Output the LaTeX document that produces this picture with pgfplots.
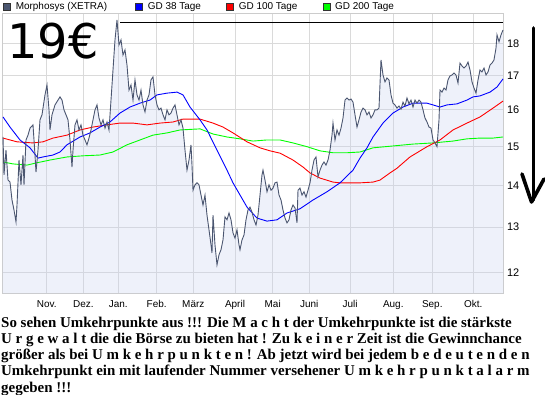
\documentclass[border=0pt]{standalone}
\usepackage{fontspec}
\setmainfont{Liberation Sans}
\newfontfamily\serifbold{Liberation Serif}
\newfontfamily\handfont{DejaVu Sans}
\usepackage{pgfplots}
\pgfplotsset{compat=1.18}
\usepackage{pgfplotstable}
\usepgfplotslibrary{fillbetween}

\definecolor{pricec}{HTML}{4B5670}
\definecolor{pfill}{HTML}{C8D2F0}
\definecolor{gridc}{HTML}{DADADA}
\definecolor{gdblue}{HTML}{0000FF}
\definecolor{gdred}{HTML}{FF0000}
\definecolor{gdgreen}{HTML}{00FF00}

\pgfplotstableread{
x v
3 15.25
4 14.26
6 14.90
8 14.13
10 14.08
12 13.64
14 13.40
16 13.12
17 13.52
19 14.64
21 14.01
23 14.77
24 14.01
26 15.17
28 15.30
30 15.49
33 15.58
35 14.77
36 14.33
38 14.90
40 15.72
42 15.86
45 16.43
47 16.72
49 16.00
50 15.44
52 15.86
55 16.14
58 16.28
60 16.37
62 16.28
64 16.00
66 15.86
68 15.72
70 15.17
72 14.46
73 14.90
75 15.58
77 15.72
79 15.44
81 15.58
83 15.30
85 15.17
87 15.04
89 15.22
91 15.44
93 15.72
95 16.00
97 16.14
99 15.77
101 15.58
103 15.72
105 15.49
107 15.66
109 15.44
111 16.28
113 17.17
115 18.11
117 18.76
119 17.95
121 18.11
123 17.63
125 17.79
127 17.32
129 16.57
131 16.72
133 16.28
135 16.87
137 16.43
139 16.28
141 16.57
143 16.14
145 15.94
147 16.28
149 16.43
151 16.87
153 16.96
155 16.43
157 16.14
159 16.00
161 16.05
163 15.86
165 15.72
167 16.00
169 15.86
171 15.91
173 16.05
175 16.14
177 15.86
179 15.58
181 15.72
183 15.49
185 14.90
187 14.38
189 14.64
191 15.04
192 14.51
193 13.88
195 14.01
197 14.06
199 14.01
201 13.76
203 13.52
205 13.76
207 13.28
209 12.94
211 12.60
212 12.42
213 13.28
215 12.60
217 12.16
219 12.38
221 12.49
223 12.71
225 13.24
227 13.17
229 13.33
231 13.17
233 12.87
235 12.75
237 12.94
239 12.60
240 12.49
242 12.71
244 12.82
246 13.17
248 13.40
250 13.47
252 13.35
254 13.17
256 13.05
258 13.28
260 13.76
262 14.26
263 14.38
265 14.13
267 13.84
269 14.01
271 13.88
273 13.93
275 14.06
277 14.08
279 13.76
281 13.64
283 13.40
285 13.21
287 13.10
289 13.17
291 13.40
293 13.52
295 13.45
297 13.10
298 13.88
300 13.93
302 13.76
304 13.84
306 13.71
308 13.88
310 14.06
312 14.38
314 14.64
316 14.72
318 14.21
320 14.38
322 14.51
324 14.59
326 14.51
328 14.64
330 14.90
332 15.30
333 15.63
335 15.17
337 15.44
339 15.30
341 15.49
343 15.77
345 16.28
347 16.34
349 16.28
351 16.31
353 16.22
355 15.86
357 15.52
359 15.72
361 15.94
363 16.05
365 16.00
367 15.86
369 15.94
371 15.77
373 15.86
375 16.00
377 16.00
379 16.05
381 17.48
383 17.02
385 16.81
387 16.93
389 16.87
391 16.43
393 16.19
395 16.14
397 16.05
399 16.11
401 16.02
403 16.22
405 16.11
407 16.34
409 16.17
411 16.28
413 16.08
415 16.28
417 16.19
419 16.28
421 16.22
423 16.00
425 15.77
427 15.66
429 15.52
431 15.49
433 15.17
435 15.09
437 14.99
439 15.72
440 16.57
442 16.51
444 16.63
446 16.57
448 16.87
450 16.99
452 17.02
454 17.08
456 17.02
458 16.78
460 17.38
462 17.29
464 17.23
466 17.29
468 17.41
470 17.17
472 16.81
474 16.63
476 16.48
478 16.87
480 17.17
482 17.11
484 17.23
486 17.02
488 17.11
490 17.32
492 17.38
494 17.48
496 17.85
497 18.27
499 18.05
501 18.27
503 18.43
}\pricetab

\pgfplotstableread{
x v
3 15.80
10 15.52
20 15.17
30 14.96
38 14.69
43 14.72
53 14.77
60 14.85
67 15.04
80 15.25
90 15.36
100 15.52
110 15.66
120 15.91
130 16.08
140 16.19
150 16.28
157 16.43
167 16.48
177 16.51
183 16.43
190 16.08
200 15.72
207 15.44
217 14.90
227 14.38
233 14.06
247 13.47
257 13.21
267 13.14
277 13.17
287 13.33
300 13.43
313 13.64
327 13.84
340 14.06
353 14.38
360 14.69
367 14.96
373 15.25
383 15.63
393 15.91
403 16.08
413 16.19
427 16.19
433 16.14
440 16.08
447 16.14
457 16.17
467 16.28
473 16.37
480 16.40
490 16.51
497 16.66
503 16.90
}\gdA

\pgfplotstableread{
x v
3 15.22
17 15.12
33 15.09
43 15.12
53 15.22
67 15.30
80 15.44
93 15.52
107 15.58
120 15.63
133 15.63
147 15.58
160 15.63
173 15.66
183 15.74
200 15.74
213 15.63
223 15.52
233 15.36
247 15.12
260 14.96
270 14.88
280 14.82
293 14.64
303 14.46
310 14.31
320 14.18
333 14.08
340 14.06
360 14.06
373 14.08
380 14.13
390 14.31
397 14.43
410 14.72
427 14.99
440 15.17
453 15.44
467 15.63
480 15.80
493 16.05
503 16.25
}\gdB

\pgfplotstableread{
x v
3 14.59
13 14.54
27 14.51
37 14.57
50 14.64
67 14.72
83 14.75
100 14.77
113 14.85
127 15.04
140 15.17
153 15.30
167 15.36
180 15.44
200 15.47
213 15.33
227 15.25
240 15.20
253 15.14
267 15.17
280 15.17
293 15.09
307 14.99
320 14.88
333 14.83
347 14.83
360 14.85
373 14.96
393 15.01
413 15.06
433 15.09
453 15.14
467 15.20
480 15.22
493 15.22
503 15.25
}\gdC

\begin{document}
\begin{tikzpicture}
\begin{axis}[
  at={(2.5bp,-293.3bp)}, anchor=south west,
  scale only axis, width=500.8bp, height=279.8bp,
  xmin=2.5, xmax=503.3,
  ymode=log, ymin=11.564, ymax=18.975,
  xtick={46.7,83.3,118.3,156.7,193.3,235,272.7,309.3,350,393.3,432.3,473.3},
  xticklabels={Nov.,Dez.,Jan.,Feb.,März,April,Mai,Juni,Juli,Aug.,Sep.,Okt.},
  ytick={12,13,14,15,16,17,18},
  yticklabels={12,13,14,15,16,17,18},
  yticklabel pos=right,
  major tick length=0pt,
  minor tick length=0pt,
  grid=major,
  major grid style={draw=gridc, line width=0.8bp},
  axis line style={draw=gray!40, line width=0.8bp},
  xticklabel style={anchor=base, yshift=-14bp, inner sep=0pt, font=\fontsize{10}{12}\selectfont},
  yticklabel style={anchor=west, xshift=3.6bp, inner sep=0pt, font=\fontsize{11}{12}\selectfont},
]
\addplot[draw=none, name path=pr, forget plot] table[x=x,y=v] {\pricetab};
\addplot[draw=none, name path=bot, forget plot] coordinates {(2.5,11.564) (503.3,11.564)};
\addplot[fill=pfill, fill opacity=0.3, draw=none] fill between[of=pr and bot];
\addplot[gdgreen, line width=0.9bp] table[x=x,y=v] {\gdC};
\addplot[gdred, line width=0.9bp] table[x=x,y=v] {\gdB};
\addplot[gdblue, line width=0.9bp] table[x=x,y=v] {\gdA};
\addplot[pricec, line width=0.9bp] table[x=x,y=v] {\pricetab};
\draw[black, line width=0.9bp] (axis cs:120,18.68) -- (axis cs:503.3,18.68);
\end{axis}
% legend
\filldraw[fill=pricec, draw=black!80, line width=0.6bp] (3.5bp,-3bp) rectangle (10.4bp,-10bp);
\node[anchor=west, inner sep=0pt, font=\fontsize{10}{12}\selectfont] at (15.6bp,-6.6bp) {Morphosys (XETRA)};
\filldraw[fill=gdblue, draw=black!80, line width=0.6bp] (135.5bp,-3bp) rectangle (142.4bp,-10bp);
\node[anchor=west, inner sep=0pt, font=\fontsize{10}{12}\selectfont] at (147.6bp,-6.6bp) {GD 38 Tage};
\filldraw[fill=gdred, draw=black!80, line width=0.6bp] (226.5bp,-3bp) rectangle (233.5bp,-10bp);
\node[anchor=west, inner sep=0pt, font=\fontsize{10}{12}\selectfont] at (238.6bp,-6.6bp) {GD 100 Tage};
\filldraw[fill=gdgreen, draw=black!80, line width=0.6bp] (323bp,-3bp) rectangle (330bp,-10bp);
\node[anchor=west, inner sep=0pt, font=\fontsize{10}{12}\selectfont] at (335bp,-6.6bp) {GD 200 Tage};
% hand annotation
\node[anchor=base west, inner sep=0pt, font=\handfont\fontsize{48}{48}\selectfont] at (7bp,-58bp) {19€};
\draw[black, line width=3.6bp, line cap=round] (533.5bp,-28bp) -- (533.5bp,-200bp);
\draw[black, line width=3.6bp, line cap=round, line join=round] (522bp,-174bp) -- (531.5bp,-202bp) -- (544bp,-179bp);
% text below
\begin{scope}[every node/.style={anchor=base west, inner sep=0pt, font=\serifbold\bfseries\fontsize{15}{16}\selectfont}]
\node at (1bp,-327bp) {So sehen Umkehrpunkte aus !!! Die M a c h t der Umkehrpunkte ist die stärkste};
\node at (1bp,-343.3bp) {U r g e w a l t die die Börse zu bieten hat ! Zu k e i n e r Zeit ist die Gewinnchance};
\node at (1bp,-359.6bp) {größer als bei U m k e h r p u n k t e n ! Ab jetzt wird bei jedem b e d e u t e n d e n};
\node at (1bp,-375.9bp) {Umkehrpunkt ein mit laufender Nummer versehener U m k e h r p u n k t a l a r m};
\node at (1bp,-392.2bp) {gegeben !!!};
\end{scope}
\pgfresetboundingbox
\path (0,0) rectangle (545bp,-395bp);
\end{tikzpicture}
\end{document}
